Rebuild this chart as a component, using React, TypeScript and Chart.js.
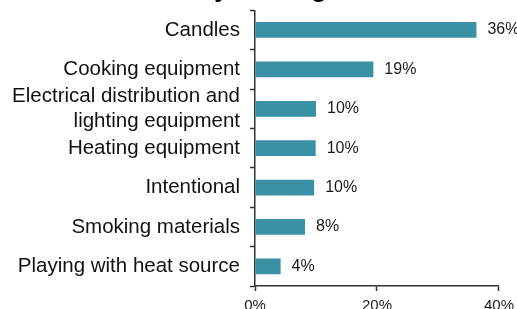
import React, { useEffect, useRef } from "react";
import { Chart, registerables } from "chart.js";

Chart.register(...registerables);

const categories: (string | string[])[] = [
  "Candles",
  "Cooking equipment",
  ["Electrical distribution and", "lighting equipment"],
  "Heating equipment",
  "Intentional",
  "Smoking materials",
  "Playing with heat source",
];
const shares = [36.3, 19.4, 10.0, 9.95, 9.7, 8.2, 4.2];
const shareLabels = ["36%", "19%", "10%", "10%", "10%", "8%", "4%"];
const tickValues = [0, 20, 40];
const titleText = "Home decoration fires by leading heat source";

const FONT = "'Liberation Sans', Arial, sans-serif";
const BAR_COLOR = "#3A91A6";
const AXIS_COLOR = "#333333";
const SHIFT = 12;
const W = 520;
const H = 333;

export default function App() {
  const ref = useRef<HTMLCanvasElement | null>(null);

  useEffect(() => {
    if (!ref.current) return;

    const valueLabels = {
      id: "valueLabels",
      afterDatasetsDraw(chart: any) {
        const ctx = chart.ctx;
        const meta = chart.getDatasetMeta(0);
        ctx.save();
        ctx.font = `16px ${FONT}`;
        ctx.fillStyle = "#1a1a1a";
        ctx.textAlign = "left";
        ctx.textBaseline = "middle";
        meta.data.forEach((bar: any, i: number) => {
          ctx.fillText(shareLabels[i], bar.x + 11, bar.y);
        });
        ctx.restore();
      },
    };

    const clippedTitle = {
      id: "clippedTitle",
      afterDraw(chart: any) {
        const ctx = chart.ctx;
        ctx.save();
        ctx.font = `bold 26px ${FONT}`;
        ctx.fillStyle = "#000";
        ctx.textAlign = "left";
        ctx.textBaseline = "alphabetic";
        const before = ctx.measureText("Home decoration fires b").width;
        const yw = ctx.measureText("y").width;
        const x = 221.5 - before - yw / 2;
        ctx.fillText(titleText, x, SHIFT - 3.3);
        ctx.restore();
      },
    };

    const chart = new Chart(ref.current, {
      type: "bar",
      data: {
        labels: categories,
        datasets: [
          {
            data: shares,
            backgroundColor: BAR_COLOR,
            barPercentage: 0.4,
            categoryPercentage: 1,
          },
        ],
      },
      options: {
        indexAxis: "y",
        responsive: false,
        animation: false,
        devicePixelRatio: 1,
        layout: { padding: { top: 0, left: 5, right: 15, bottom: 0 } },
        plugins: {
          legend: { display: false },
          tooltip: { enabled: false },
          title: { display: false },
        },
        scales: {
          x: {
            min: 0,
            max: 40,
            afterBuildTicks(axis: any) {
              axis.ticks = tickValues.map((v) => ({ value: v }));
            },
            grid: {
              display: true,
              drawOnChartArea: false,
              drawTicks: true,
              tickLength: 5,
              tickColor: AXIS_COLOR,
              tickWidth: 1.5,
            },
            border: { display: true, color: AXIS_COLOR, width: 1.5 },
            ticks: {
              padding: 6,
              color: "#1a1a1a",
              font: { family: FONT, size: 15 },
              maxRotation: 0,
              callback: (v: any) => `${v}%`,
            },
          },
          y: {
            grid: {
              display: true,
              drawOnChartArea: false,
              drawTicks: true,
              tickLength: 5,
              offset: true,
              tickColor: AXIS_COLOR,
              tickWidth: 1.5,
            },
            border: { display: true, color: AXIS_COLOR, width: 1.5 },
            ticks: {
              autoSkip: false,
              padding: 10,
              color: "#111",
              font: { family: FONT, size: 20.5, lineHeight: 1.2 },
            },
          },
        },
      },
      plugins: [valueLabels, clippedTitle],
    });

    return () => chart.destroy();
  }, []);

  return (
    <div style={{ position: "absolute", left: 0, top: -SHIFT, width: W, height: H }}>
      <canvas ref={ref} width={W} height={H} style={{ width: W, height: H, display: "block" }} />
    </div>
  );
}
